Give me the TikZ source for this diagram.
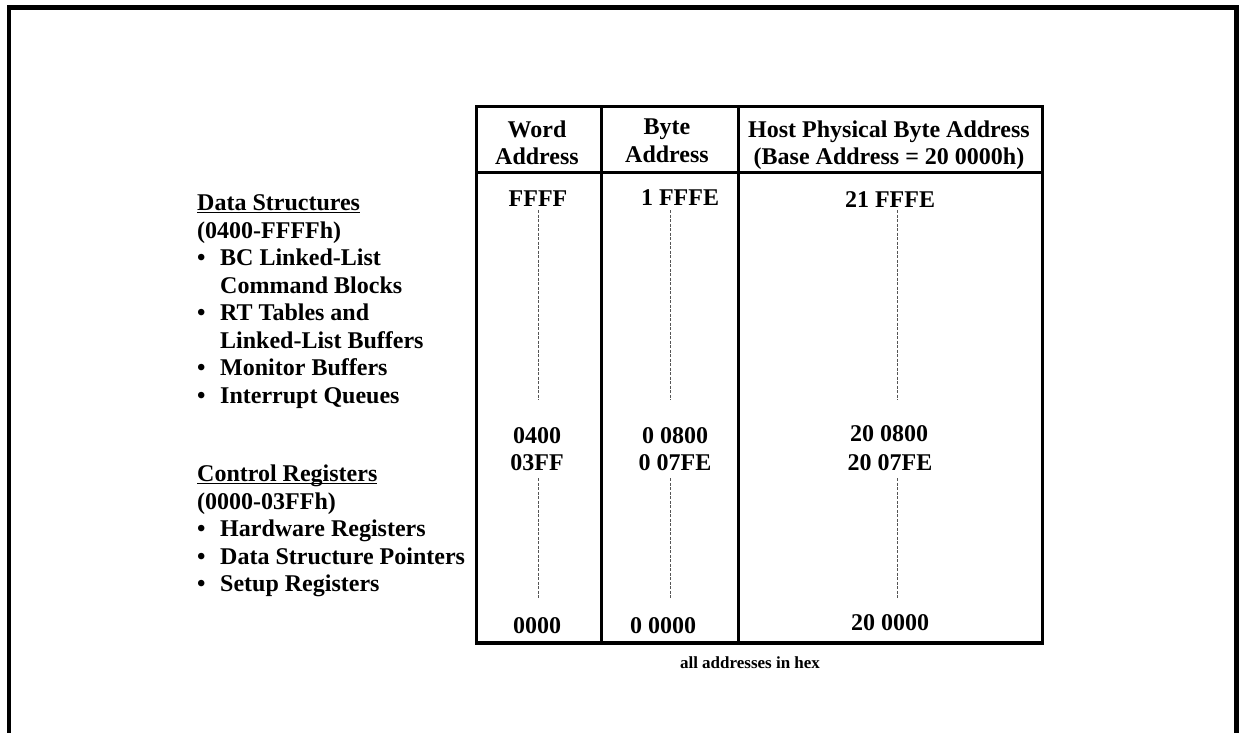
\documentclass[tikz,border=0pt]{standalone}
\usepackage{fontspec}
\setmainfont{Liberation Serif}
\usetikzlibrary{positioning}
\definecolor{dashgray}{HTML}{555555}
\newcommand{\bitem}[1]{\makebox[23pt][l]{\textbullet}#1}
\newcommand{\bcont}[1]{\makebox[23pt][l]{}#1}
\newcommand{\headline}[1]{\underline{\smash{#1}}\vphantom{Dg}}

\begin{document}
\begin{tikzpicture}[
  x=1pt, y=-1pt,
  font=\bfseries\fontsize{24}{27.5}\selectfont,
  frame/.style={line width=4.5pt},
  grid/.style={line width=3pt},
  hdr/.style={anchor=north, align=center, inner sep=0pt},
  val/.style={anchor=base, inner sep=0pt},
  lst/.style={anchor=north west, align=left, inner sep=0pt},
  note/.style={anchor=base, inner sep=0pt, font=\bfseries\fontsize{17}{20}\selectfont},
  gap/.style={draw=dashgray, line width=0.8pt, dash pattern=on 3pt off 1.5pt}
]
\useasboundingbox (0,0) rectangle (1239,733);
% outer frame, open at the bottom
\draw[frame] (9,740) -- (9,7.5) -- (1236.5,7.5) -- (1236.5,740);

% table outline
\coordinate (tl) at (476,107);
\coordinate (br) at (1042,643);
\coordinate (hl) at (476,172);
\coordinate (hr) at (1042,172);
\coordinate (c1) at (601,0);
\coordinate (c2) at (738,0);
\draw[grid] (tl) rectangle (br);
\draw[grid] (hl) -- (hr);
\draw[grid] (c1 |- tl) -- (c1 |- br);
\draw[grid] (c2 |- tl) -- (c2 |- br);
\draw[line width=4.5pt] (tl |- br) -- (br);

% column heads
\node[hdr] (hword) at (537,120.5) {Word\\Address};
\node[hdr] (hbyte) at (667,119) {Byte\\Address};
\node[hdr] (hhost) at (889,120.5) {Host Physical Byte Address\\(Base Address = 20 0000h)};

% word addresses
\node[val] (wtop) at (538,206) {FFFF};
\node[val] (wmid) at (537,443) {0400};
\node[val] (wlow) at (537,470) {03FF};
\node[val] (wbot) at (537,633) {0000};
% byte addresses
\node[val] (btop) at (680,205) {1 FFFE};
\node[val] (bmid) at (675,443) {0 0800};
\node[val] (blow) at (675,470) {0 07FE};
\node[val] (bbot) at (663,633) {0 0000};
% host addresses
\node[val] (htop) at (890,207) {21 FFFE};
\node[val] (hmid) at (889,441) {20 0800};
\node[val] (hlow) at (890,470) {20 07FE};
\node[val] (hbot) at (890,630) {20 0000};

% dashed runs between the ends of each range
\coordinate (d1) at (538,0);
\coordinate (d2) at (670,0);
\coordinate (d3) at (897,0);
\draw[gap, shorten <=4pt, shorten >=27pt] (d1 |- wtop.south) -- (d1 |- wmid.north);
\draw[gap, shorten <=8pt, shorten >=17pt] (d1 |- wlow.south) -- (d1 |- wbot.north);
\draw[gap, shorten <=5pt, shorten >=27pt] (d2 |- btop.south) -- (d2 |- bmid.north);
\draw[gap, shorten <=8pt, shorten >=17pt] (d2 |- blow.south) -- (d2 |- bbot.north);
\draw[gap, shorten <=3pt, shorten >=25pt] (d3 |- htop.south) -- (d3 |- hmid.north);
\draw[gap, shorten <=8pt, shorten >=14pt] (d3 |- hlow.south) -- (d3 |- hbot.north);

\node[note] (hex) at (750,668) {all addresses in hex};

% memory regions
\node[lst] (ds) at (197,195) {\headline{Data Structures}\\(0400-FFFFh)\\
  \bitem{BC Linked-List}\\\bcont{Command Blocks}\\
  \bitem{RT Tables and}\\\bcont{Linked-List Buffers}\\
  \bitem{Monitor Buffers}\\\bitem{Interrupt Queues}};
\node[lst] (cr) at (197,466) {\headline{Control Registers}\\(0000-03FFh)\\
  \bitem{Hardware Registers}\\\bitem{Data Structure Pointers}\\
  \bitem{Setup Registers}};
\end{tikzpicture}
\end{document}
